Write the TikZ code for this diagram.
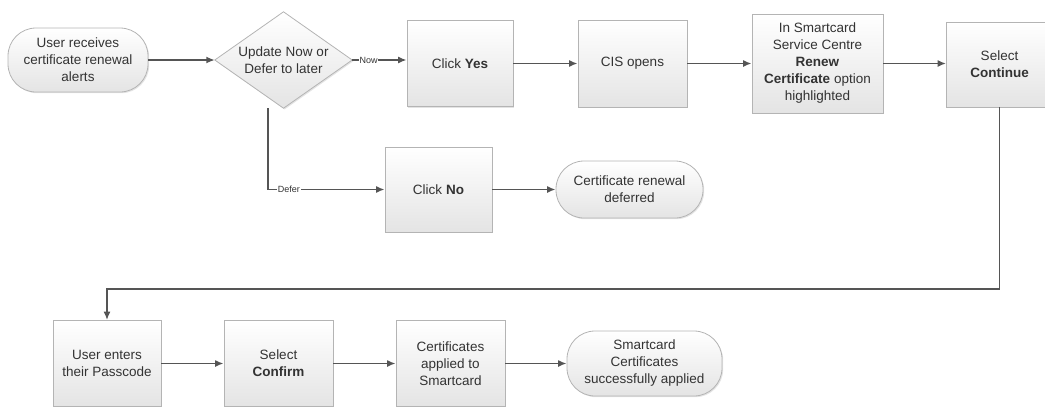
\documentclass[tikz,border=0pt]{standalone}
\usepackage{fontspec}
\setmainfont{Liberation Sans}
\usetikzlibrary{arrows.meta,shadows,backgrounds,positioning}
\definecolor{txt}{HTML}{333333}
\definecolor{ln}{HTML}{555555}
\definecolor{bd}{HTML}{B4B4B4}
\definecolor{fillbot}{HTML}{E4E4E4}
\tikzset{
  base/.style={draw=bd, line width=0.8pt, top color=white, bottom color=fillbot,
    drop shadow={shadow xshift=1.2pt, shadow yshift=-1.2pt, opacity=0.22},
    text=txt, align=center, inner sep=2pt,
    font=\fontsize{13.5}{17}\selectfont},
  procbox/.style={base, rectangle},
  term/.style={base, rectangle, rounded corners=28pt},
  conn/.style={draw=ln, line width=1.6pt, -{Latex[length=8.5pt,width=7pt]}},
  lbl/.style={fill=white, inner sep=0.6pt, text=txt, font=\fontsize{9}{10}\selectfont}
}
\begin{document}
\begin{tikzpicture}[x=1pt,y=-1pt]
\useasboundingbox (0,0) rectangle (1045,407);
% nodes
\node[term, minimum width=140pt, minimum height=64pt] (start) at (78,60)
  {User receives\\certificate renewal\\alerts};
\node[align=center, text=txt, font=\fontsize{13.5}{17}\selectfont,
  minimum width=137pt, minimum height=96pt, inner sep=0pt] (d) at (283.5,60)
  {Update Now or\\Defer to later};
\begin{scope}[on background layer]
\path[draw=bd, line width=0.8pt, top color=white, bottom color=fillbot,
  drop shadow={shadow xshift=1.2pt, shadow yshift=-1.2pt, opacity=0.22}]
  (d.north) -- (d.east) -- (d.south) -- (d.west) -- cycle;
\end{scope}
\node[procbox, minimum width=106pt, minimum height=86pt] (yes) at (460,63.5)
  {Click \textbf{Yes}};
\node[procbox, minimum width=109pt, minimum height=87pt] (cis) at (632.5,63.5)
  {CIS opens};
\node[procbox, minimum width=131pt, minimum height=99pt] (smart) at (817.5,63.5)
  {In Smartcard\\Service Centre\\\textbf{Renew}\\\textbf{Certificate} option\\highlighted};
\node[procbox, minimum width=106pt, minimum height=85pt] (cont) at (999.5,64.5)
  {Select\\\textbf{Continue}};
\node[procbox, minimum width=107pt, minimum height=85pt] (no) at (438.5,189.5)
  {Click \textbf{No}};
\node[term, minimum width=147pt, minimum height=57pt] (deferred) at (629.5,189.5)
  {Certificate renewal\\deferred};
\node[procbox, minimum width=108pt, minimum height=86pt] (pass) at (107,363.5)
  {User enters\\their Passcode};
\node[procbox, minimum width=109pt, minimum height=86pt] (conf) at (278.5,363.5)
  {Select\\\textbf{Confirm}};
\node[procbox, minimum width=109pt, minimum height=86pt] (appl) at (450.5,363.5)
  {Certificates\\applied to\\Smartcard};
\node[term, minimum width=155pt, minimum height=65pt] (done) at (644.5,363.5)
  {Smartcard\\Certificates\\successfully applied};
% helper coordinates
\coordinate (dsplit) at ([xshift=-15.5pt]d.south);
\coordinate (turn) at (0,289);
% connectors
\draw[conn] (start) -- (d.west);
\draw[conn] (d.east) -- node[lbl, pos=0.3] {Now} (d.east -| yes.west);
\draw[conn] (yes) -- (cis);
\draw[conn] (cis) -- (smart);
\draw[conn] (smart) -- (smart.east -| cont.west);
\draw[conn] (dsplit) |- node[lbl, pos=0.59] {Defer} (no.west);
\draw[conn] (no) -- (deferred);
\draw[conn] (cont.south) -- (cont.south |- turn) -- (pass.north |- turn) -- (pass.north);
\draw[conn] (pass) -- (conf);
\draw[conn] (conf) -- (appl);
\draw[conn] (appl) -- (done);
\end{tikzpicture}
\end{document}
